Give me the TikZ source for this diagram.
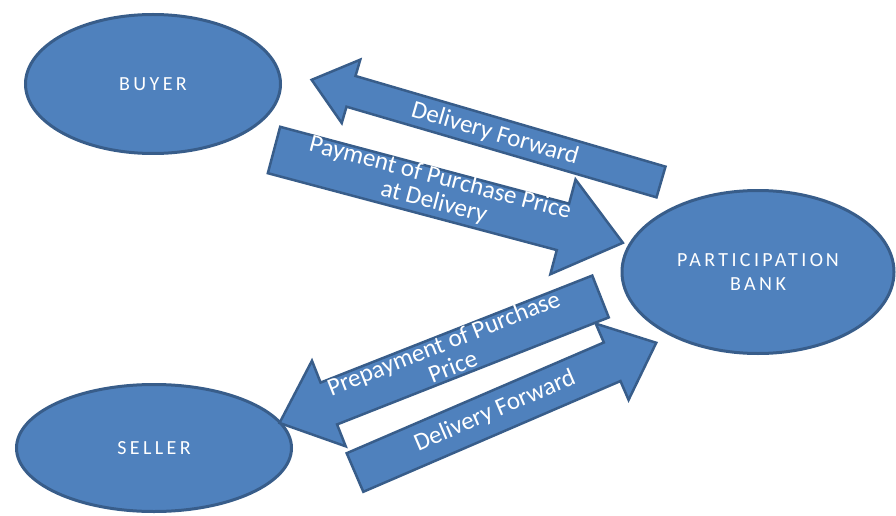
\documentclass[tikz,border=0pt]{standalone}
\usepackage{fontspec}
\setmainfont{Carlito}
\newfontfamily\capsfont[LetterSpace=17]{Carlito}
\usetikzlibrary{shapes.geometric}
\definecolor{boxfill}{HTML}{4F81BD}
\definecolor{boxline}{HTML}{385D8A}
\tikzset{
  party/.style={ellipse, draw=boxline, fill=boxfill, line width=3pt,
    inner sep=0pt, text=white, align=center,
    font=\capsfont\fontsize{20}{24.5}\selectfont},
  arrowshape/.style={draw=boxline, fill=boxfill, line width=2.5pt, line join=miter},
  flowtext/.style={text=white, align=center, inner sep=0pt,
    font=\fontsize{25}{25}\selectfont},
  % block arrow: tail centred at the origin, pointing along +x
  % args: length / shaft width / head width / head length
  pics/blockarrow/.style args={#1/#2/#3/#4}{code={
    \draw[arrowshape] (0,-#2/2) -- (#1-#4,-#2/2) -- (#1-#4,-#3/2) -- (#1,0)
      -- (#1-#4,#3/2) -- (#1-#4,#2/2) -- (0,#2/2) -- cycle;
  }}
}
\begin{document}
\begin{tikzpicture}[x=1pt,y=1pt]
\useasboundingbox (0,0) rectangle (896,515);

% parties
\node[party, minimum width=255pt, minimum height=139pt] (buyer) at (153,431) {BUYER};
\node[party, minimum width=272pt, minimum height=163pt] (bank) at (758,243)
  {PARTICIPATIO\hspace{3pt}N\\BANK};
\node[party, minimum width=275pt, minimum height=127pt] (seller) at (154,67) {SELLER};

% flows between buyer and bank
\pic[rotate=163.7] at (661,333) {blockarrow=364/32/66/41};
\pic[rotate=-14.9] at (274,365) {blockarrow=361/48/98/62};
\node[flowtext, rotate=-16.3] (fwd1) at (495,381) {Delivery Forward};
\node[flowtext, rotate=-14.6] (pay) at (437,324.5) {Payment of Purchase Price\\at Delivery};

% flows between seller and bank
\pic[rotate=201.5] at (600.5,218.5) {blockarrow=345/45/92/53};
\pic[rotate=23.3] at (355,42.5) {blockarrow=328/42/83/48};
\node[flowtext, rotate=21.5] (prepay) at (448,160.5) {Prepayment of Purchase\\Price};
\node[flowtext, rotate=23.3] (fwd2) at (495,104) {Delivery Forward};
\end{tikzpicture}
\end{document}
